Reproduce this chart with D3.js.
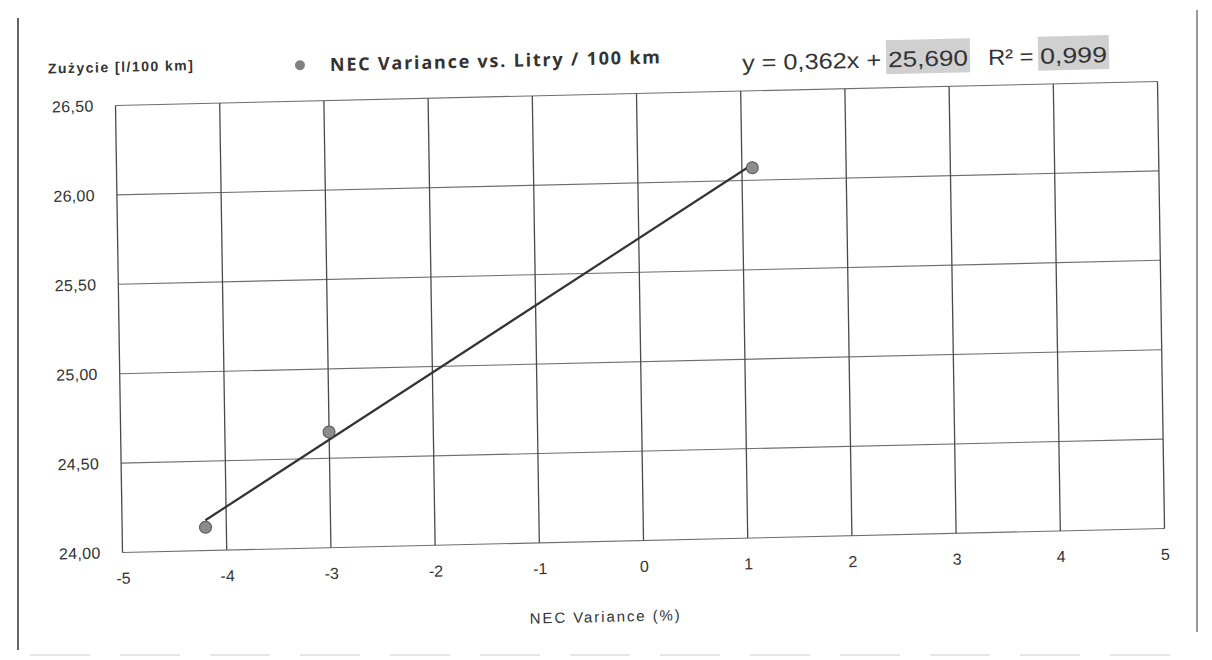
<!DOCTYPE html>
<html>
<head>
<meta charset="utf-8">
<script src="https://cdn.jsdelivr.net/npm/d3@7"></script>
<style>
  body { margin: 0; background: #fff; }
  svg { display: block; }
  text { font-family: "Liberation Sans", Arial, sans-serif; fill: #333; white-space: pre; }
</style>
</head>
<body>
<svg id="svg" width="1212" height="660"></svg>
<script>
// data
const xValues = [-4.2, -3, 1.1];
const yValues = [24.13, 24.647, 26.07];
const xTicks = [-5, -4, -3, -2, -1, 0, 1, 2, 3, 4, 5];
const yTicks = [24.0, 24.5, 25.0, 25.5, 26.0, 26.5];
const trendCoef = [0.362, 25.690];   // slope, intercept
const rSquared = [0.999];
const seriesName = ['NEC Variance vs. Litry / 100 km'];
const axisTitles = ['NEC Variance (%)', 'Zużycie [l/100 km]'];

(() => {
  const width = 1212, height = 660;
  const plot = { left: 119, right: 1161, top: 93.5, bottom: 540.5 };
  const fmt = v => d3.format('.2f')(v).replace('.', ',');
  const fmt3 = v => d3.format('.3f')(v).replace('.', ',');
  const fmtInt = v => String(v);   // plain hyphen, not the unicode minus

  let svg = d3.select('#svg');

  // scan edges of the printed page
  svg.append('line').attr('x1', 18).attr('x2', 18).attr('y1', 18).attr('y2', 650)
    .attr('stroke', '#333').attr('stroke-width', 1.5);
  svg.append('line').attr('x1', 1197).attr('x2', 1197).attr('y1', 10).attr('y2', 632)
    .attr('stroke', '#555').attr('stroke-width', 1.2);
  svg.append('line').attr('x1', 30).attr('x2', 1190).attr('y1', 655).attr('y2', 655)
    .attr('stroke', '#ccc').attr('stroke-dasharray', '60 30');

  // the sheet is slightly skewed in the scan (around 640,317)
  const a = 0.0157, b = -0.023;
  let g = svg.append('g')
    .attr('transform', `matrix(1, ${b}, ${a}, 1, ${-a * 317}, ${-b * 640})`);

  let xScale = d3.scaleLinear().domain([-5, 5]).range([plot.left, plot.right]);
  let yScale = d3.scaleLinear().domain([24, 26.5]).range([plot.bottom, plot.top]);

  // grid
  let grid = g.append('g');
  grid.selectAll('.hgrid')
    .data(yTicks)
    .enter()
    .append('line')
    .attr('class', 'hgrid')
    .attr('x1', plot.left).attr('x2', plot.right)
    .attr('y1', d => yScale(d)).attr('y2', d => yScale(d))
    .attr('stroke', '#6e6e6e').attr('stroke-width', 1.1);
  grid.selectAll('.vgrid')
    .data(xTicks)
    .enter()
    .append('line')
    .attr('class', 'vgrid')
    .attr('x1', d => xScale(d)).attr('x2', d => xScale(d))
    .attr('y1', plot.top).attr('y2', plot.bottom)
    .attr('stroke', '#4a4a4a').attr('stroke-width', 1.3);

  // axes (labels only, like the Excel print)
  let xAxis = g.append('g')
    .attr('transform', `translate(0, ${plot.bottom + 17})`)
    .call(d3.axisBottom(xScale).tickValues(xTicks).tickSize(0).tickFormat(fmtInt));
  xAxis.select('.domain').remove();
  xAxis.selectAll('text')
    .attr('font-size', 16).attr('fill', '#3a3a3a')
    .style('font-family', '"Liberation Sans", Arial, sans-serif');

  let yAxis = g.append('g')
    .attr('transform', `translate(${plot.left - 19}, 0)`)
    .call(d3.axisLeft(yScale).tickValues(yTicks).tickSize(0).tickFormat(fmt));
  yAxis.select('.domain').remove();
  yAxis.selectAll('text')
    .attr('font-size', 16).attr('fill', '#3a3a3a').attr('letter-spacing', 0.3)
    .style('font-family', '"Liberation Sans", Arial, sans-serif');

  // trend line
  let trend = x => trendCoef[0] * x + trendCoef[1];
  let xr = d3.extent(xValues);
  g.append('line')
    .attr('x1', xScale(xr[0])).attr('y1', yScale(trend(xr[0])))
    .attr('x2', xScale(xr[1])).attr('y2', yScale(trend(xr[1])))
    .attr('stroke', '#333').attr('stroke-width', 2.2);

  // points
  g.selectAll('.pt')
    .data(xValues.map((x, i) => ({ x: x, y: yValues[i] })))
    .enter()
    .append('circle')
    .attr('class', 'pt')
    .attr('cx', d => xScale(d.x))
    .attr('cy', d => yScale(d.y))
    .attr('r', 6)
    .attr('fill', '#8c8c8c')
    .attr('stroke', '#555')
    .attr('stroke-width', 1);

  // axis titles
  g.append('text')
    .attr('x', 600).attr('y', 621)
    .attr('text-anchor', 'middle')
    .attr('font-size', 15)
    .attr('textLength', 150)
    .attr('fill', '#3a3a3a')
    .text(axisTitles[0]);

  g.append('text')
    .attr('x', 52).attr('y', 60)
    .attr('font-size', 14)
    .attr('font-weight', 'bold')
    .attr('textLength', 145)
    .attr('fill', '#444')
    .text(axisTitles[1]);

  // legend
  g.append('circle')
    .attr('cx', 304).attr('cy', 57.5).attr('r', 5)
    .attr('fill', '#808080');
  g.append('text')
    .attr('x', 334).attr('y', 64)
    .attr('font-size', 18)
    .attr('font-weight', 'bold')
    .attr('textLength', 330)
    .attr('fill', '#333')
    .style('font-family', '"Open Sans", "Noto Sans", sans-serif')
    .text(seriesName[0]);

  // equation with the highlighted numbers
  let eq = g.append('g').attr('transform', 'translate(746, 73)');
  let parts = [
    { t: `y = ${fmt3(trendCoef[0])}x + `, w: 146, hl: false },
    { t: fmt3(trendCoef[1]), w: 80, hl: true, gap: 0 },
    { t: 'R² = ', w: 52, hl: false, gap: 20 },
    { t: fmt3(rSquared[0]), w: 67, hl: true, gap: 0 }
  ];
  let cx = 0;
  parts.forEach(p => {
    cx += p.gap || 0;
    if (p.hl) {
      eq.append('rect')
        .attr('x', cx - 2).attr('y', -27)
        .attr('width', p.w + 4).attr('height', 34)
        .attr('fill', '#d0d0d0');
    }
    eq.append('text')
      .attr('x', cx).attr('y', 0)
      .attr('font-size', 22)
      .attr('textLength', p.w)
      .attr('lengthAdjust', 'spacingAndGlyphs')
      .attr('fill', '#2a2a2a')
      .text(p.t);
    cx += p.w;
  });
})();
</script>
</body>
</html>
